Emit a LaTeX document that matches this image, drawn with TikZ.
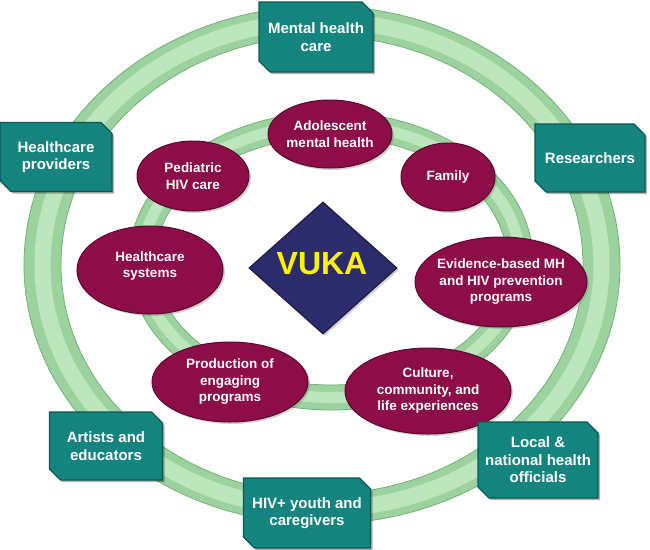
\documentclass[tikz,border=0pt]{standalone}
\usepackage{fontspec}
\setmainfont{Liberation Sans}
\usetikzlibrary{shapes.geometric,shadows}
\definecolor{ringbase}{HTML}{9CD29D}
\definecolor{ringhi}{HTML}{BEE6BC}
\definecolor{ringedge}{HTML}{74B179}
\definecolor{tealc}{HTML}{15847F}
\definecolor{tealdark}{HTML}{0B5855}
\definecolor{crim}{HTML}{8C0D47}
\definecolor{crimdark}{HTML}{5A0830}
\definecolor{navy}{HTML}{2C2C6C}
\definecolor{navyedge}{HTML}{1B1B48}
\definecolor{vukay}{HTML}{FFF200}
\newcommand\chamfbox[1]{%
  \fill[black, opacity=0.3] ([shift={(2pt,-2pt)}]#1.north west) -- ([shift={(-9pt,-2pt)}]#1.north east)
    -- ([shift={(2pt,-13pt)}]#1.north east) -- ([shift={(2pt,-2pt)}]#1.south east)
    -- ([shift={(13pt,-2pt)}]#1.south west) -- ([shift={(2pt,9pt)}]#1.south west) -- cycle;
  \filldraw[fill=tealc, draw=tealdark, line width=1.2pt] (#1.north west) -- ([xshift=-11pt]#1.north east)
    -- ([yshift=-11pt]#1.north east) -- (#1.south east)
    -- ([xshift=11pt]#1.south west) -- ([yshift=11pt]#1.south west) -- cycle;}
\begin{document}
\begin{tikzpicture}[x=1pt,y=-1pt,
  tealbox/.style={rectangle, inner sep=0pt, outer sep=0pt},
  boxtext/.style={text=white, font=\fontsize{15}{17.5}\selectfont\bfseries, align=center, inner sep=0pt},
  crimell/.style={ellipse, fill=crim, draw=crimdark, line width=1pt, inner sep=0pt,
    drop shadow={opacity=0.35, shadow xshift=2pt, shadow yshift=-2pt}},
  elltext/.style={text=white, font=\fontsize{13.5}{16.5}\selectfont\bfseries, align=center, inner sep=0pt},
]
\useasboundingbox (0,0) rectangle (650,549);
\fill[white] (0,0) rectangle (650,549);

% outer ring
\fill[ringbase, even odd rule] (322,265) ellipse [x radius=298pt, y radius=259pt]
  (322,265) ellipse [x radius=261pt, y radius=229pt];
\draw[ringhi, line width=16pt] (322,265) ellipse [x radius=279.5pt, y radius=244pt];
\draw[ringedge, line width=0.8pt] (322,265) ellipse [x radius=298pt, y radius=259pt];
\draw[ringedge, line width=0.8pt] (322,265) ellipse [x radius=261pt, y radius=229pt];

% inner ring
\fill[ringbase, even odd rule] (331,261) ellipse [x radius=202pt, y radius=149pt]
  (331,261) ellipse [x radius=176pt, y radius=124pt];
\draw[ringhi, line width=11pt] (331,261) ellipse [x radius=189pt, y radius=136.5pt];
\draw[ringedge, line width=0.8pt] (331,261) ellipse [x radius=202pt, y radius=149pt];
\draw[ringedge, line width=0.8pt] (331,261) ellipse [x radius=176pt, y radius=124pt];

% centre diamond
\node[diamond, fill=navy, draw=navyedge, line width=1.2pt, inner sep=0pt,
  minimum width=148pt, minimum height=132pt,
  drop shadow={opacity=0.35, shadow xshift=2pt, shadow yshift=-2pt}] (vuka) at (323,268) {};
\node[text=vukay, font=\fontsize{32}{36}\selectfont\bfseries, inner sep=0pt] (vukat) at (322,264) {VUKA};

% inner ellipses
\node[crimell, minimum width=124pt, minimum height=68pt] (adol) at (330,134) {};
\node[elltext] (adolt) at (adol) {Adolescent\\mental health};
\node[crimell, minimum width=94pt, minimum height=68pt] (fam) at (448,177) {};
\node[elltext] (famt) at (fam) {Family};
\node[crimell, minimum width=112pt, minimum height=70pt] (ped) at (193,176) {};
\node[elltext] (pedt) at (ped) {Pediatric\\HIV care};
\node[crimell, minimum width=146pt, minimum height=88pt] (hsys) at (150,270) {};
\node[elltext] (hsyst) at ([yshift=4pt]hsys) {Healthcare\\systems};
\node[crimell, minimum width=172pt, minimum height=90pt] (evid) at (501,282) {};
\node[elltext] (evidt) at (evid) {Evidence-based MH\\and HIV prevention\\programs};
\node[crimell, minimum width=156pt, minimum height=80pt] (prod) at (230,382) {};
\node[elltext] (prodt) at (prod) {Production of\\engaging\\programs};
\node[crimell, minimum width=166pt, minimum height=86pt] (cult) at (428,391) {};
\node[elltext] (cultt) at (cult) {Culture,\\community, and\\life experiences};

% outer teal boxes
\node[tealbox, minimum width=114pt, minimum height=70pt] (mhc) at (316,37) {};
\node[tealbox, minimum width=112pt, minimum height=69pt] (hcp) at (56,157) {};
\node[tealbox, minimum width=110pt, minimum height=68pt] (res) at (590,158) {};
\node[tealbox, minimum width=113pt, minimum height=68pt] (art) at (106,446) {};
\node[tealbox, minimum width=120pt, minimum height=76pt] (loc) at (538,460) {};
\node[tealbox, minimum width=127pt, minimum height=70pt] (hiv) at (307,513) {};
\chamfbox{mhc}\chamfbox{hcp}\chamfbox{res}\chamfbox{art}\chamfbox{loc}\chamfbox{hiv}
\node[boxtext] (mhct) at (mhc) {Mental health\\care};
\node[boxtext] (hcpt) at (hcp) {Healthcare\\providers};
\node[boxtext] (rest) at (res) {Researchers};
\node[boxtext] (artt) at (art) {Artists and\\educators};
\node[boxtext] (loct) at (loc) {Local \&\\national health\\officials};
\node[boxtext] (hivt) at (hiv) {HIV+ youth and\\caregivers};
\end{tikzpicture}
\end{document}
